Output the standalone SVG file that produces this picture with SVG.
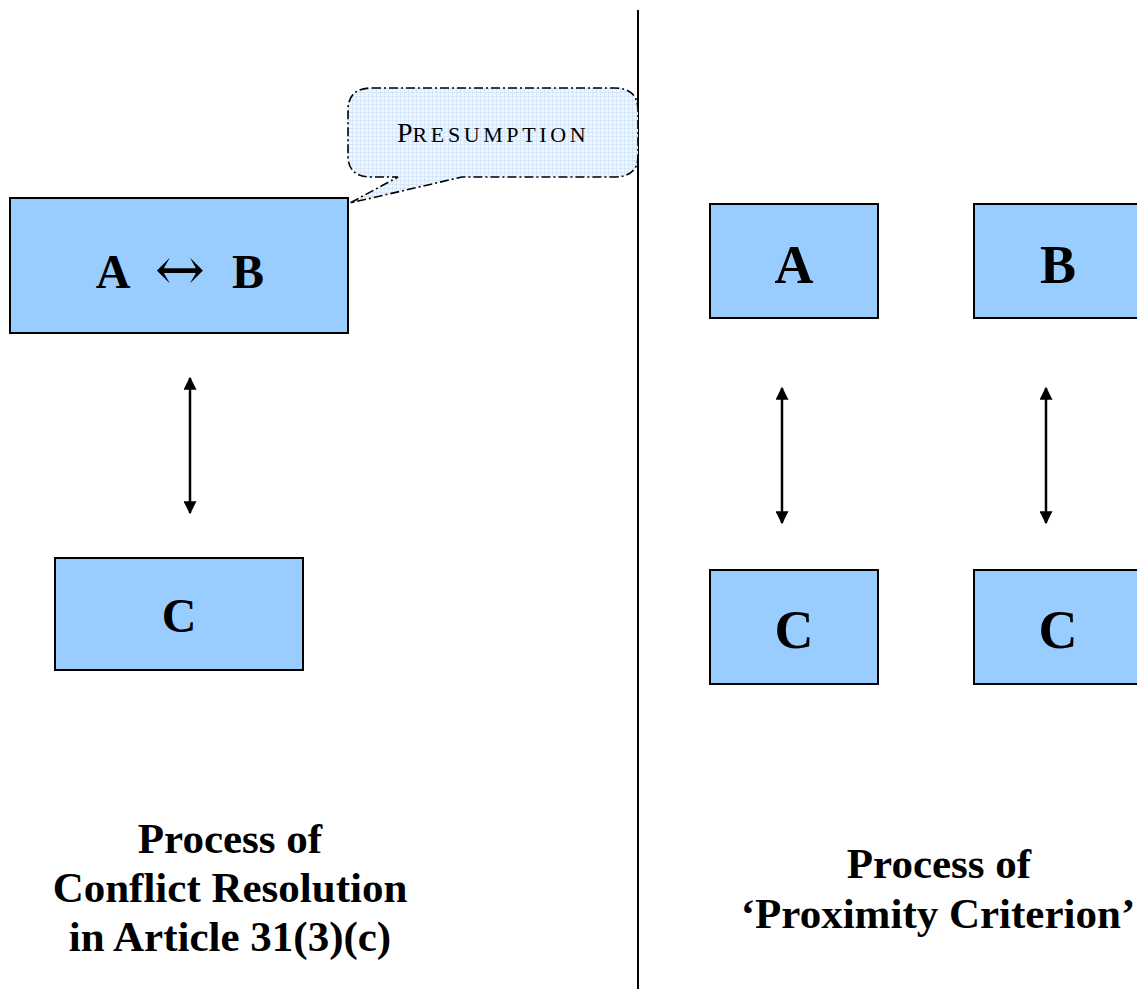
<svg xmlns="http://www.w3.org/2000/svg" width="1137" height="989" viewBox="0 0 1137 989">
<style>
.box{fill:#99ccff;stroke:#000;stroke-width:2}
.lbl{font-family:"Liberation Serif",serif;font-weight:bold;font-size:48px;text-anchor:middle;fill:#000}
.lbl2{font-family:"Liberation Serif",serif;font-weight:bold;font-size:54px;text-anchor:middle;fill:#000}
.cap{font-family:"Liberation Serif",serif;font-weight:bold;font-size:43px;text-anchor:middle;fill:#000}
.conn{stroke:#000;stroke-width:2.5;fill:none;marker-start:url(#ah);marker-end:url(#ah)}
</style>
<defs>
<marker id="ah" viewBox="0 0 10 10" refX="9" refY="5" markerWidth="14" markerHeight="13" orient="auto-start-reverse" markerUnits="userSpaceOnUse">
<path d="M0,0 L10,5 L0,10 z" fill="#000"/>
</marker>
<pattern id="grid" width="4" height="4" patternUnits="userSpaceOnUse">
<rect width="4" height="4" fill="#eef5fd"/>
<path d="M0,0 H4 M0,0 V4" stroke="#c5dcf5" stroke-width="1"/>
</pattern>
</defs>
<rect width="1137" height="989" fill="#fff"/>
<line x1="638" y1="10" x2="638" y2="989" stroke="#000" stroke-width="2"/>
<g id="callout">
<path d="M372,88 H614 Q638,88 638,110 V156 Q638,177 614,177 H462 L350,203 L398,177 H372 Q348,177 348,156 V110 Q348,88 372,88 Z" fill="url(#grid)" stroke="#000" stroke-width="1.6" stroke-dasharray="9,3,2,3"/>
<text x="397" y="142" font-family="Liberation Serif,serif" fill="#000"><tspan font-size="28">P</tspan><tspan font-size="22" letter-spacing="3.6">RESUMPTION</tspan></text>
</g>
<g id="nodeAB">
<rect class="box" x="10" y="198" width="338" height="135"/>
<text class="lbl" x="113" y="288">A</text>
<text x="180" y="290" font-family="DejaVu Serif,serif" font-size="60" text-anchor="middle" fill="#000">↔</text>
<text class="lbl" x="248" y="288">B</text>
</g>
<g id="nodeC1">
<rect class="box" x="55" y="558" width="248" height="112"/>
<text class="lbl" x="179" y="632">C</text>
</g>
<g id="nodeA">
<rect class="box" x="710" y="204" width="168" height="114"/>
<text class="lbl2" x="794" y="283">A</text>
</g>
<g id="nodeB">
<rect class="box" x="974" y="204" width="170" height="114"/>
<text class="lbl2" x="1058" y="283">B</text>
</g>
<g id="nodeC2">
<rect class="box" x="710" y="570" width="168" height="114"/>
<text class="lbl2" x="794" y="648">C</text>
</g>
<g id="nodeC3">
<rect class="box" x="974" y="570" width="170" height="114"/>
<text class="lbl2" x="1058" y="648">C</text>
</g>
<g id="connectors">
<line class="conn" x1="190" y1="378" x2="190" y2="513"/>
<line class="conn" x1="782" y1="388" x2="782" y2="523"/>
<line class="conn" x1="1046" y1="388" x2="1046" y2="523"/>
</g>
<g id="captionLeft">
<text class="cap" x="230" y="853">Process of</text>
<text class="cap" x="230" y="902">Conflict Resolution</text>
<text class="cap" x="230" y="951">in Article 31(3)(c)</text>
</g>
<g id="captionRight">
<text class="cap" x="939" y="878">Process of</text>
<text class="cap" x="938" y="928">‘Proximity Criterion’</text>
</g>
</svg>
